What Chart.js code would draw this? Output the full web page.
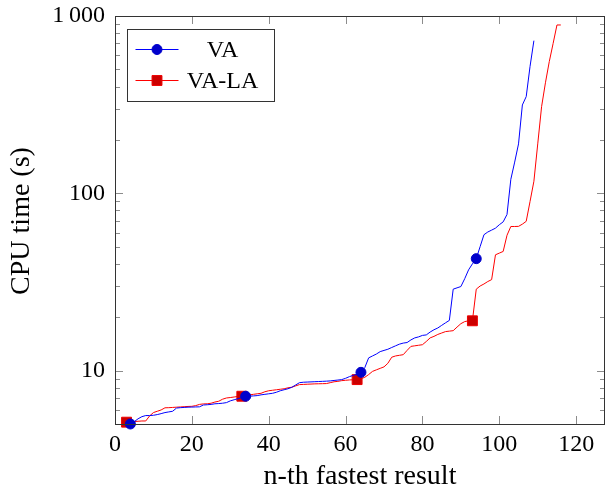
<!DOCTYPE html>
<html>
<head>
<meta charset="utf-8">
<script src="https://cdn.jsdelivr.net/npm/chart.js@4.4.1/dist/chart.umd.min.js"></script>
<style>
  html, body { margin: 0; padding: 0; background: #fff; }
</style>
</head>
<body>
<canvas id="cpuChart" width="606" height="488"></canvas>
<script>
'use strict'

// rank of the first point in each series
const vaStart = 4;
const valaStart = 3;

// CPU time (s) of the n-th fastest result
const vaTimes = [
  5.0, 5.15, 5.35, 5.5, 5.58, 5.58, 5.6, 5.65, 5.72, 5.8,
  5.85, 5.9, 6.15, 6.18, 6.2, 6.22, 6.23, 6.24, 6.25, 6.4,
  6.42, 6.45, 6.5, 6.52, 6.55, 6.6, 6.75, 6.85, 6.95, 7.05,
  7.17, 7.18, 7.2, 7.23, 7.3, 7.35, 7.4, 7.45, 7.55, 7.7,
  7.8, 7.9, 8.05, 8.3, 8.55, 8.6, 8.62, 8.64, 8.66, 8.68,
  8.7, 8.72, 8.75, 8.8, 8.85, 8.9, 9.05, 9.25, 9.4, 9.55,
  9.78, 10.4, 11.8, 12.1, 12.4, 12.8, 13.0, 13.2, 13.5, 13.8,
  14.1, 14.3, 14.4, 14.9, 15.3, 15.5, 15.8, 15.9, 16.5, 17.0,
  17.4, 18.0, 18.6, 19.2, 28.8, 29.3, 29.8, 33, 37, 40,
  42.8, 50, 58.4, 60.5, 62, 63.6, 66.5, 69, 76, 120,
  150, 190, 315, 351, 520, 726
];
const valaTimes = [
  5.12, 5.14, 5.16, 5.18, 5.2, 5.2, 5.55, 5.8, 5.9, 6.0,
  6.17, 6.18, 6.2, 6.22, 6.24, 6.26, 6.28, 6.29, 6.35, 6.45,
  6.49, 6.5, 6.55, 6.65, 6.72, 6.9, 7.01, 7.05, 7.1, 7.15,
  7.17, 7.25, 7.3, 7.35, 7.4, 7.45, 7.6, 7.7, 7.75, 7.8,
  7.85, 7.9, 8.0, 8.06, 8.2, 8.34, 8.36, 8.38, 8.4, 8.42,
  8.43, 8.44, 8.45, 8.55, 8.65, 8.7, 8.78, 8.82, 8.86, 8.88,
  8.9, 9.0, 9.17, 9.5, 9.9, 10.1, 10.3, 10.5, 11.0, 11.9,
  12.1, 12.2, 12.3, 13.0, 13.7, 13.8, 13.9, 14.0, 14.6, 15.3,
  15.6, 16.0, 16.3, 16.6, 16.7, 16.8, 17.6, 18.4, 18.9, 19.1,
  19.1, 28.8, 30, 30.8, 31.8, 32.6, 45, 46, 47, 58,
  65, 65, 65.1, 67, 69.5, 90, 117, 190, 308, 420,
  553, 700, 890, 890
];

const xTicks = [0, 20, 40, 60, 80, 100, 120];
const yTicks = [5, 6, 7, 8, 9, 10, 20, 30, 40, 50, 60, 70, 80, 90,
  100, 200, 300, 400, 500, 600, 700, 800, 900, 1000];
const yLabels = { 10: '10', 100: '100', 1000: '1\u2009000' };
const yTitle = 'CPU time (s)';

const FONT = { family: '"Liberation Serif", serif', size: 24 };
const TITLE_FONT = { family: '"Liberation Serif", serif', size: 28, lineHeight: 0.8 };
const markEvery = 30;

// frame, inward tick marks, y title and the boxed legend
const framePlugin = {
  id: 'frame',
  afterDatasetsDraw(chart) {
    const { ctx, chartArea: a, scales } = chart;
    ctx.save();
    ctx.strokeStyle = '#8c8c8c';
    ctx.lineWidth = 1;
    ctx.beginPath();
    scales.x.ticks.forEach(t => {
      const px = Math.round(scales.x.getPixelForValue(t.value)) + 0.5;
      ctx.moveTo(px, a.bottom); ctx.lineTo(px, a.bottom - 8);
      ctx.moveTo(px, a.top); ctx.lineTo(px, a.top + 8);
    });
    scales.y.ticks.forEach(t => {
      const len = yLabels[t.value] ? 8 : 5;
      const py = Math.round(scales.y.getPixelForValue(t.value)) + 0.5;
      ctx.moveTo(a.left, py); ctx.lineTo(a.left + len, py);
      ctx.moveTo(a.right, py); ctx.lineTo(a.right - len, py);
    });
    ctx.stroke();

    ctx.strokeStyle = '#333';
    ctx.strokeRect(Math.round(a.left) + 0.5, Math.round(a.top) + 0.5,
      Math.round(a.right - a.left) - 1, Math.round(a.bottom - a.top));

    // y axis title
    ctx.save();
    ctx.translate(22, (a.top + a.bottom) / 2 + 1);
    ctx.rotate(-Math.PI / 2);
    ctx.font = TITLE_FONT.size + 'px ' + TITLE_FONT.family;
    ctx.textAlign = 'center';
    ctx.textBaseline = 'middle';
    ctx.fillStyle = '#000';
    ctx.fillText(yTitle, 0, 0);
    ctx.restore();

    // legend
    const bx = Math.round(a.left + 12) + 0.5, by = Math.round(a.top + 13) + 0.5;
    ctx.fillStyle = '#fff';
    ctx.fillRect(bx, by, 147, 72);
    ctx.strokeRect(bx, by, 147, 72);
    ctx.font = FONT.size + 'px ' + FONT.family;
    ctx.textAlign = 'center';
    ctx.textBaseline = 'middle';
    chart.data.datasets.forEach((ds, i) => {
      const ry = by + 20 + i * 31;
      ctx.strokeStyle = ds.borderColor;
      ctx.beginPath();
      ctx.moveTo(bx + 8, ry); ctx.lineTo(bx + 51, ry);
      ctx.stroke();
      ctx.fillStyle = ds.pointBackgroundColor;
      ctx.strokeStyle = ds.pointBorderColor;
      ctx.beginPath();
      if (ds.pointStyle === 'rect') {
        const s = ds.legendRadius * Math.SQRT1_2;
        ctx.rect(bx + 29.5 - s, ry - s, 2 * s, 2 * s);
      } else {
        ctx.arc(bx + 29.5, ry, ds.legendRadius, 0, Math.PI * 2);
      }
      ctx.fill(); ctx.stroke();
      ctx.fillStyle = '#000';
      ctx.fillText(ds.label, bx + 95, ry + 1);
    });
    ctx.restore();
  }
};

new Chart(document.getElementById('cpuChart'), {
  type: 'line',
  data: {
    datasets: [{
      label: 'VA',
      data: vaTimes.map((t, i) => ({ x: vaStart + i, y: t })),
      borderColor: '#0000ff',
      borderWidth: 1,
      pointStyle: 'circle',
      pointBackgroundColor: '#0000cc',
      pointBorderColor: '#0000cc',
      pointRadius: ctx => (ctx.dataIndex % markEvery === 0 ? 5 : 0),
      legendRadius: 5,
      tension: 0
    }, {
      label: 'VA-LA',
      data: valaTimes.map((t, i) => ({ x: valaStart + i, y: t })),
      borderColor: '#ff0000',
      borderWidth: 1,
      pointStyle: 'rect',
      pointBackgroundColor: '#cc0000',
      pointBorderColor: '#ee0000',
      pointRadius: ctx => (ctx.dataIndex % markEvery === 0 ? 7 : 0),
      legendRadius: 7,
      tension: 0
    }]
  },
  options: {
    responsive: false,
    animation: false,
    devicePixelRatio: 1,
    clip: false,
    layout: { autoPadding: false, padding: { top: 16, right: 1, left: 0, bottom: 0 } },
    plugins: {
      legend: { display: false },
      tooltip: { enabled: false }
    },
    scales: {
      x: {
        type: 'linear',
        min: 0,
        max: 127.5,
        afterBuildTicks: scale => { scale.ticks = xTicks.map(v => ({ value: v })); },
        afterFit: scale => {
          scale.height = 64;
          scale.paddingLeft = 0;
          scale.paddingRight = 0;
        },
        grid: { display: false, drawTicks: false },
        border: { display: false },
        ticks: { font: FONT, color: '#000', padding: 6, maxRotation: 0 },
        title: {
          display: true, text: 'n-th fastest result', color: '#000',
          font: TITLE_FONT, padding: { top: 0, bottom: 0 }
        }
      },
      y: {
        type: 'logarithmic',
        min: 5,
        max: 1000,
        afterBuildTicks: scale => { scale.ticks = yTicks.map(v => ({ value: v })); },
        afterFit: scale => {
          scale.width = 115;
          scale.paddingTop = 0;
          scale.paddingBottom = 0;
        },
        grid: { display: false, drawTicks: false },
        border: { display: false },
        ticks: {
          font: FONT, color: '#000', padding: 10, autoSkip: false,
          callback: v => yLabels[v] || ''
        },
        title: { display: false }
      }
    }
  },
  plugins: [framePlugin]
});
</script>
</body>
</html>
